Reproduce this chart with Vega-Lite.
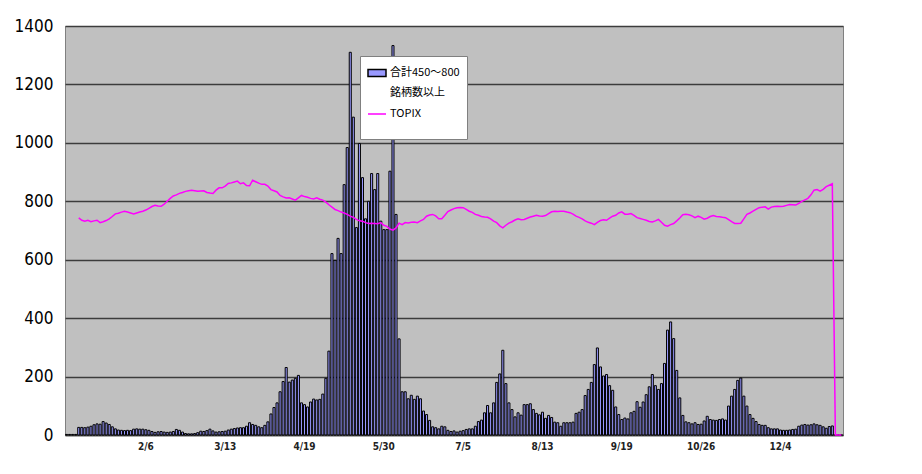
{
"$schema": "https://vega.github.io/schema/vega-lite/v6.json",
"width": 778, "height": 409,
"autosize": "none",
"padding": {"left": 65, "top": 26, "right": 79, "bottom": 39},
"background": "white",
"config": {
  "view": {"fill": "#c0c0c0", "stroke": "#808080", "strokeWidth": 1},
  "style": {"guide-label": {"lineHeight": 20}}
},
"data": {"values": [
{"d":"11/12/26","n":2,"t":null},{"d":"11/12/27","n":2,"t":null},{"d":"11/12/28","n":2,"t":null},{"d":"11/12/29","n":2,"t":null},
{"d":"1/4","n":26,"t":743},{"d":"1/5","n":26,"t":735},{"d":"1/6","n":25,"t":732},{"d":"1/10","n":27,"t":735},{"d":"1/11","n":30,"t":730},{"d":"1/12","n":35,"t":733},{"d":"1/13","n":38,"t":735},{"d":"1/16","n":37,"t":727},{"d":"1/17","n":46,"t":730},{"d":"1/18","n":41,"t":734},{"d":"1/19","n":36,"t":740},{"d":"1/20","n":28,"t":748},{"d":"1/23","n":21,"t":757},{"d":"1/24","n":17,"t":759},{"d":"1/25","n":16,"t":763},{"d":"1/26","n":15,"t":766},{"d":"1/27","n":16,"t":763},{"d":"1/30","n":15,"t":760},{"d":"1/31","n":20,"t":757},
{"d":"2/1","n":21,"t":760},{"d":"2/2","n":20,"t":763},{"d":"2/3","n":20,"t":766},{"d":"2/6","n":18,"t":770},{"d":"2/7","n":16,"t":776},{"d":"2/8","n":12,"t":782},{"d":"2/9","n":9,"t":786},{"d":"2/10","n":11,"t":784},{"d":"2/13","n":12,"t":783},{"d":"2/14","n":10,"t":790},{"d":"2/15","n":9,"t":800},{"d":"2/16","n":10,"t":810},{"d":"2/17","n":12,"t":818},{"d":"2/20","n":19,"t":822},{"d":"2/21","n":16,"t":827},{"d":"2/22","n":10,"t":830},{"d":"2/23","n":5,"t":834},{"d":"2/24","n":4,"t":836},{"d":"2/27","n":4,"t":838},{"d":"2/28","n":5,"t":836},{"d":"2/29","n":8,"t":834},
{"d":"3/1","n":13,"t":835},{"d":"3/2","n":12,"t":836},{"d":"3/5","n":15,"t":830},{"d":"3/6","n":20,"t":828},{"d":"3/7","n":14,"t":827},{"d":"3/8","n":10,"t":838},{"d":"3/9","n":11,"t":846},{"d":"3/12","n":12,"t":846},{"d":"3/13","n":13,"t":852},{"d":"3/14","n":17,"t":861},{"d":"3/15","n":20,"t":863},{"d":"3/16","n":22,"t":866},{"d":"3/19","n":24,"t":869},{"d":"3/21","n":25,"t":860},{"d":"3/22","n":25,"t":863},{"d":"3/23","n":30,"t":854},{"d":"3/26","n":42,"t":853},{"d":"3/27","n":36,"t":872},{"d":"3/28","n":33,"t":867},{"d":"3/29","n":28,"t":862},{"d":"3/30","n":25,"t":858},
{"d":"4/2","n":33,"t":858},{"d":"4/3","n":45,"t":852},{"d":"4/4","n":72,"t":840},{"d":"4/5","n":94,"t":836},{"d":"4/6","n":110,"t":832},{"d":"4/9","n":148,"t":820},{"d":"4/10","n":183,"t":815},{"d":"4/11","n":231,"t":811},{"d":"4/12","n":181,"t":812},{"d":"4/13","n":188,"t":808},{"d":"4/16","n":194,"t":804},{"d":"4/17","n":204,"t":812},{"d":"4/18","n":110,"t":820},{"d":"4/19","n":104,"t":816},{"d":"4/20","n":96,"t":814},{"d":"4/23","n":113,"t":810},{"d":"4/24","n":123,"t":808},{"d":"4/25","n":120,"t":812},{"d":"4/26","n":122,"t":807},{"d":"4/27","n":140,"t":804},
{"d":"5/1","n":194,"t":797},{"d":"5/2","n":287,"t":788},{"d":"5/7","n":621,"t":780},{"d":"5/8","n":598,"t":772},{"d":"5/9","n":673,"t":768},{"d":"5/10","n":621,"t":763},{"d":"5/11","n":857,"t":760},{"d":"5/14","n":984,"t":755},{"d":"5/15","n":1310,"t":749},{"d":"5/16","n":1088,"t":745},{"d":"5/17","n":710,"t":738},{"d":"5/18","n":998,"t":733},{"d":"5/21","n":881,"t":732},{"d":"5/22","n":740,"t":727},{"d":"5/23","n":800,"t":724},{"d":"5/24","n":895,"t":725},{"d":"5/25","n":840,"t":724},{"d":"5/28","n":895,"t":723},{"d":"5/29","n":732,"t":727},{"d":"5/30","n":703,"t":718},{"d":"5/31","n":703,"t":714},
{"d":"6/1","n":903,"t":705},{"d":"6/4","n":1333,"t":701},{"d":"6/5","n":755,"t":709},{"d":"6/6","n":329,"t":725},{"d":"6/7","n":148,"t":720},{"d":"6/8","n":148,"t":727},{"d":"6/11","n":124,"t":726},{"d":"6/12","n":136,"t":728},{"d":"6/13","n":122,"t":729},{"d":"6/14","n":133,"t":727},{"d":"6/15","n":124,"t":733},{"d":"6/18","n":82,"t":738},{"d":"6/19","n":70,"t":749},{"d":"6/20","n":50,"t":753},{"d":"6/21","n":28,"t":755},{"d":"6/22","n":25,"t":750},{"d":"6/25","n":21,"t":740},{"d":"6/26","n":30,"t":740},{"d":"6/27","n":28,"t":752},{"d":"6/28","n":16,"t":765},{"d":"6/29","n":12,"t":770},
{"d":"7/2","n":14,"t":775},{"d":"7/3","n":10,"t":778},{"d":"7/4","n":13,"t":779},{"d":"7/5","n":15,"t":778},{"d":"7/6","n":19,"t":772},{"d":"7/9","n":21,"t":766},{"d":"7/10","n":21,"t":762},{"d":"7/11","n":30,"t":755},{"d":"7/12","n":46,"t":752},{"d":"7/13","n":51,"t":748},{"d":"7/17","n":76,"t":746},{"d":"7/18","n":101,"t":745},{"d":"7/19","n":76,"t":740},{"d":"7/20","n":110,"t":732},{"d":"7/23","n":180,"t":727},{"d":"7/24","n":209,"t":716},{"d":"7/25","n":290,"t":709},{"d":"7/26","n":176,"t":718},{"d":"7/27","n":110,"t":725},{"d":"7/30","n":87,"t":730},{"d":"7/31","n":62,"t":736},
{"d":"8/1","n":76,"t":740},{"d":"8/2","n":68,"t":737},{"d":"8/3","n":104,"t":738},{"d":"8/6","n":104,"t":742},{"d":"8/7","n":107,"t":746},{"d":"8/8","n":87,"t":749},{"d":"8/9","n":74,"t":752},{"d":"8/10","n":69,"t":750},{"d":"8/13","n":78,"t":749},{"d":"8/14","n":57,"t":751},{"d":"8/15","n":67,"t":758},{"d":"8/16","n":60,"t":764},{"d":"8/17","n":44,"t":766},{"d":"8/20","n":42,"t":765},{"d":"8/21","n":30,"t":766},{"d":"8/22","n":42,"t":766},{"d":"8/23","n":42,"t":763},{"d":"8/24","n":42,"t":761},{"d":"8/27","n":44,"t":756},{"d":"8/28","n":74,"t":749},{"d":"8/29","n":78,"t":745},{"d":"8/30","n":87,"t":740},{"d":"8/31","n":135,"t":733},
{"d":"9/3","n":156,"t":728},{"d":"9/4","n":180,"t":725},{"d":"9/5","n":241,"t":720},{"d":"9/6","n":298,"t":728},{"d":"9/7","n":233,"t":734},{"d":"9/10","n":202,"t":737},{"d":"9/11","n":207,"t":735},{"d":"9/12","n":169,"t":742},{"d":"9/13","n":153,"t":749},{"d":"9/14","n":96,"t":752},{"d":"9/18","n":70,"t":760},{"d":"9/19","n":53,"t":764},{"d":"9/20","n":58,"t":756},{"d":"9/21","n":55,"t":756},{"d":"9/24","n":76,"t":758},{"d":"9/25","n":81,"t":752},{"d":"9/26","n":114,"t":744},{"d":"9/27","n":95,"t":741},{"d":"9/28","n":113,"t":738},
{"d":"10/1","n":138,"t":735},{"d":"10/2","n":165,"t":731},{"d":"10/3","n":207,"t":729},{"d":"10/4","n":169,"t":733},{"d":"10/5","n":156,"t":738},{"d":"10/9","n":176,"t":728},{"d":"10/10","n":245,"t":718},{"d":"10/11","n":359,"t":715},{"d":"10/12","n":387,"t":720},{"d":"10/15","n":330,"t":724},{"d":"10/16","n":221,"t":733},{"d":"10/17","n":127,"t":743},{"d":"10/18","n":67,"t":754},{"d":"10/19","n":45,"t":756},{"d":"10/22","n":42,"t":754},{"d":"10/23","n":38,"t":750},{"d":"10/24","n":42,"t":744},{"d":"10/25","n":36,"t":749},{"d":"10/26","n":37,"t":745},{"d":"10/29","n":48,"t":739},{"d":"10/30","n":64,"t":742},{"d":"10/31","n":53,"t":748},
{"d":"11/1","n":51,"t":751},{"d":"11/2","n":50,"t":748},{"d":"11/5","n":53,"t":747},{"d":"11/6","n":55,"t":745},{"d":"11/7","n":51,"t":744},{"d":"11/8","n":99,"t":737},{"d":"11/9","n":133,"t":730},{"d":"11/12","n":156,"t":724},{"d":"11/13","n":187,"t":724},{"d":"11/14","n":195,"t":725},{"d":"11/15","n":133,"t":740},{"d":"11/16","n":99,"t":755},{"d":"11/19","n":70,"t":760},{"d":"11/20","n":57,"t":766},{"d":"11/21","n":46,"t":772},{"d":"11/22","n":36,"t":778},{"d":"11/26","n":33,"t":780},{"d":"11/27","n":33,"t":781},{"d":"11/28","n":25,"t":773},{"d":"11/29","n":21,"t":780},{"d":"11/30","n":21,"t":782},
{"d":"12/3","n":21,"t":783},{"d":"12/4","n":17,"t":782},{"d":"12/5","n":16,"t":783},{"d":"12/6","n":16,"t":786},{"d":"12/7","n":17,"t":789},{"d":"12/10","n":19,"t":788},{"d":"12/11","n":20,"t":787},{"d":"12/12","n":30,"t":793},{"d":"12/13","n":34,"t":800},{"d":"12/14","n":36,"t":805},{"d":"12/17","n":34,"t":810},{"d":"12/18","n":35,"t":822},{"d":"12/19","n":38,"t":838},{"d":"12/20","n":35,"t":840},{"d":"12/21","n":33,"t":835},{"d":"12/25","n":28,"t":841},{"d":"12/26","n":23,"t":850},{"d":"12/27","n":29,"t":855},{"d":"12/28","n":31,"t":860},
{"d":"12/31","n":0,"t":0},{"d":"1/1","n":0,"t":0},{"d":"1/2","n":0,"t":0}
]},
"encoding": {
  "x": {"field": "d", "type": "ordinal", "sort": null,
    "scale": {"paddingInner": 0.33, "paddingOuter": 0.165},
    "axis": {"title": null, "values": ["2/6","3/13","4/19","5/30","7/5","8/13","9/19","10/26","12/4"],
      "labelAngle": 0, "ticks": false, "domain": true, "domainColor": "#404040", "domainWidth": 1.5,
      "labelFont": "DejaVu Sans Condensed, Roboto, Liberation Sans, sans-serif", "labelFontSize": 10, "labelFontWeight": "bold",
      "labelColor": "#222222", "labelPadding": 6, "grid": false}}
},
"layer": [
  {"mark": {"type": "bar", "stroke": "black", "strokeWidth": 1},
   "encoding": {
     "y": {"field": "n", "type": "quantitative", "scale": {"domain": [0, 1400], "nice": false},
       "axis": {"title": null, "values": [0,100,200,300,400,500,600,700,800,900,1000,1100,1200,1300,1400],
         "format": "d",
         "grid": true, "gridColor": "#3c3c3c", "gridWidth": 1.5, "ticks": false, "domain": false,
         "labelFont": "DejaVu Sans Condensed, Roboto, Liberation Sans, sans-serif", "labelFontSize": 17, "labelColor": "#000000", "labelPadding": 12}},
     "fill": {"datum": "bar", "type": "nominal",
       "scale": {"domain": ["bar"], "range": ["#9999ff"]},
       "legend": {"orient": "none", "legendX": 295, "legendY": 30,
         "title": " ", "titleOrient": "bottom", "titleFontSize": 12, "titlePadding": 3,
         "fillColor": "white", "strokeColor": "#808080", "padding": 7,
         "symbolType": "M-1,-0.4H1V0.4H-1Z", "symbolSize": 324,
         "symbolStrokeColor": "black", "symbolStrokeWidth": 1.5,
         "labelExpr": "['合計450～800','銘柄数以上',' ']",
         "labelFont": "Noto Sans CJK JP", "labelFontSize": 11,
         "labelColor": "black", "labelOffset": 3, "zindex": 1}}
   }},
  {"mark": {"type": "line", "strokeWidth": 1.5},
   "encoding": {
     "y": {"field": "t", "type": "quantitative"},
     "stroke": {"datum": "TOPIX", "type": "nominal",
       "scale": {"domain": ["TOPIX"], "range": ["#ff00ff"]},
       "legend": {"orient": "none", "legendX": 302, "legendY": 78, "title": null, "padding": 0,
         "symbolType": "stroke", "symbolSize": 324, "symbolStrokeWidth": 1.5,
         "labelFont": "Noto Sans CJK JP", "labelFontSize": 11,
         "labelColor": "black", "labelOffset": 3, "zindex": 2}}
   }}
]
}
